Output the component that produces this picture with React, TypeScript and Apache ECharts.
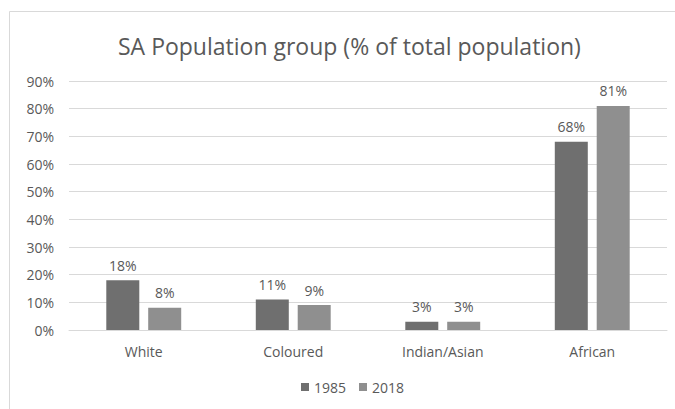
import React, { useEffect, useRef } from "react";
import * as echarts from "echarts";

const categories = ["White", "Coloured", "Indian/Asian", "African"];
const years = ["1985", "2018"];
const values1985 = [18, 11, 3, 68];
const values2018 = [8, 9, 3, 81];
const yTicks = { min: 0, max: 90, interval: 10 };

const FONT = "'Open Sans', 'Noto Sans', sans-serif";
const TEXT = "#595959";

export default function App() {
  const ref = useRef<HTMLDivElement>(null);

  useEffect(() => {
    if (!ref.current) return;
    const chart = echarts.init(ref.current, undefined, { renderer: "svg" });
    const label = {
      show: true,
      position: "top" as const,
      distance: 8,
      formatter: "{c}%",
      color: TEXT,
      fontFamily: FONT,
      fontSize: 14,
    };
    chart.setOption({
      animation: false,
      backgroundColor: "#ffffff",
      title: {
        text: "SA Population group (% of total population)",
        left: 113,
        top: 29,
        textStyle: { color: TEXT, fontFamily: FONT, fontSize: 23, fontWeight: "normal" },
      },
      graphic: [
        {
          type: "rect",
          shape: { x: 9.5, y: 11.5, width: 700, height: 420 },
          style: { fill: "none", stroke: "#d9d9d9", lineWidth: 1 },
          silent: true,
          z: -1,
        },
      ],
      grid: { left: 69, right: 8, top: 81, bottom: 79 },
      legend: {
        bottom: 10,
        left: 296,
        itemWidth: 8,
        itemHeight: 8,
        itemGap: 13,
        icon: "rect",
        textStyle: { color: TEXT, fontFamily: FONT, fontSize: 14 },
        data: years,
      },
      xAxis: {
        type: "category",
        data: categories,
        axisLine: { lineStyle: { color: "#d9d9d9" } },
        axisTick: { show: false },
        axisLabel: { color: TEXT, fontFamily: FONT, fontSize: 14, margin: 14 },
      },
      yAxis: {
        type: "value",
        min: yTicks.min,
        max: yTicks.max,
        interval: yTicks.interval,
        axisLine: { show: false },
        axisTick: { show: false },
        splitLine: { lineStyle: { color: "#d9d9d9" } },
        axisLabel: { color: TEXT, fontFamily: FONT, fontSize: 14, margin: 15, formatter: "{value}%" },
      },
      series: [
        {
          name: years[0],
          type: "bar",
          data: values1985,
          barWidth: 33,
          barGap: "27%",
          itemStyle: { color: "#6f6f6f" },
          label,
        },
        {
          name: years[1],
          type: "bar",
          data: values2018,
          barWidth: 33,
          itemStyle: { color: "#8f8f8f" },
          label,
        },
      ],
    });
    return () => chart.dispose();
  }, []);

  return <div ref={ref} style={{ width: 675, height: 409, position: "absolute", left: 0, top: 0 }} />;
}
